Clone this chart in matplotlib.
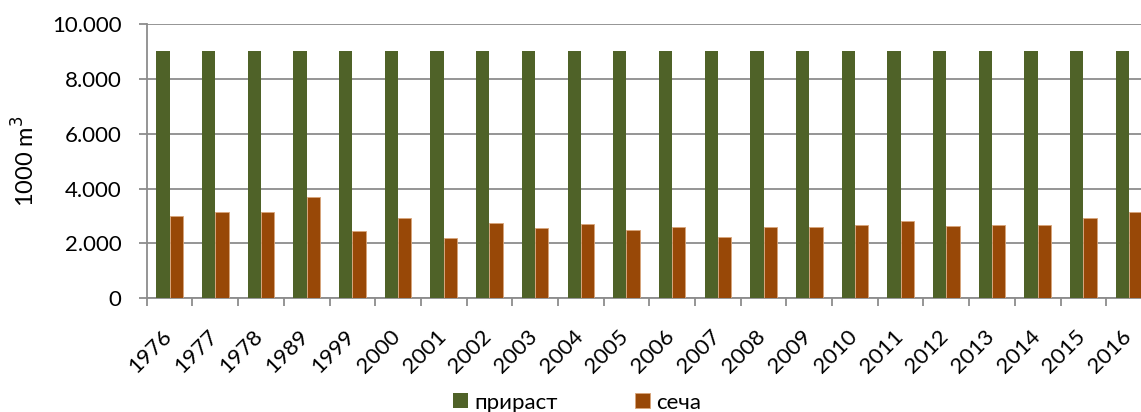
import matplotlib.pyplot as plt
import matplotlib.transforms as mtransforms
import numpy as np

plt.rcParams['font.family'] = ['Lato', 'Open Sans', 'DejaVu Sans']

# подаци
years = ['1976', '1977', '1978', '1989', '1999', '2000', '2001', '2002', '2003',
         '2004', '2005', '2006', '2007', '2008', '2009', '2010', '2011', '2012',
         '2013', '2014', '2015', '2016']
prirast = [9000] * 22
seca = [3000, 3150, 3150, 3700, 2450, 2920, 2190, 2730, 2575, 2700, 2480,
        2600, 2235, 2600, 2580, 2670, 2820, 2625, 2660, 2660, 2930, 3140]

green = '#4F6228'
orange = '#984807'
grid_c = '#8c8c8c'
fs = 16

fig = plt.figure(figsize=(11.41, 4.12), dpi=100)
ax = fig.add_axes([0.1286, 0.276, 0.881, 0.666])

x = np.arange(len(years))
w = 0.29
ax.bar(x - w / 2, prirast, w, color=green, label='прираст', zorder=3)
ax.bar(x + w / 2, seca, w, color=orange, edgecolor='#d9a57a', linewidth=0.6,
       label='сеча', zorder=3)

ax.set_xlim(-0.5, len(years) - 0.5)
ax.set_ylim(0, 10000)
ax.set_yticks(range(0, 10001, 2000))
ax.set_yticklabels(['0', '2.000', '4.000', '6.000', '8.000', '10.000'])
ax.yaxis.grid(True, color=grid_c, linewidth=1.3, zorder=0)

ax.set_xticks(np.arange(len(years) + 1) - 0.5)
ax.set_xticklabels([])
ax.set_xticks(x, minor=True)
ax.set_xticklabels(years, minor=True, rotation=45, ha='right',
                   rotation_mode='anchor', fontsize=fs)
ax.tick_params(axis='x', which='minor', length=0, pad=20)
ax.tick_params(axis='x', which='major', length=6, color=grid_c, width=1.3)
ax.tick_params(axis='y', length=6, color=grid_c, width=1.3, labelsize=fs, pad=12)

# померање ознака година улево
off = mtransforms.ScaledTranslation(-8 / 100, 0, fig.dpi_scale_trans)
for lab in ax.get_xticklabels(minor=True):
    lab.set_transform(lab.get_transform() + off)

for s in ['top', 'right']:
    ax.spines[s].set_visible(False)
for s in ['left', 'bottom']:
    ax.spines[s].set_color(grid_c)
    ax.spines[s].set_linewidth(1.3)

ax.set_ylabel('1000 m$^3$', fontsize=17)
ax.yaxis.set_label_coords(-0.108, 0.5)

fig.legend(loc='lower center', bbox_to_anchor=(0.506, -0.05), ncol=2,
           frameon=False, fontsize=fs, handlelength=0.65, handleheight=0.65,
           handletextpad=0.3, columnspacing=3.5)

fig.savefig('out.png', dpi=100)
